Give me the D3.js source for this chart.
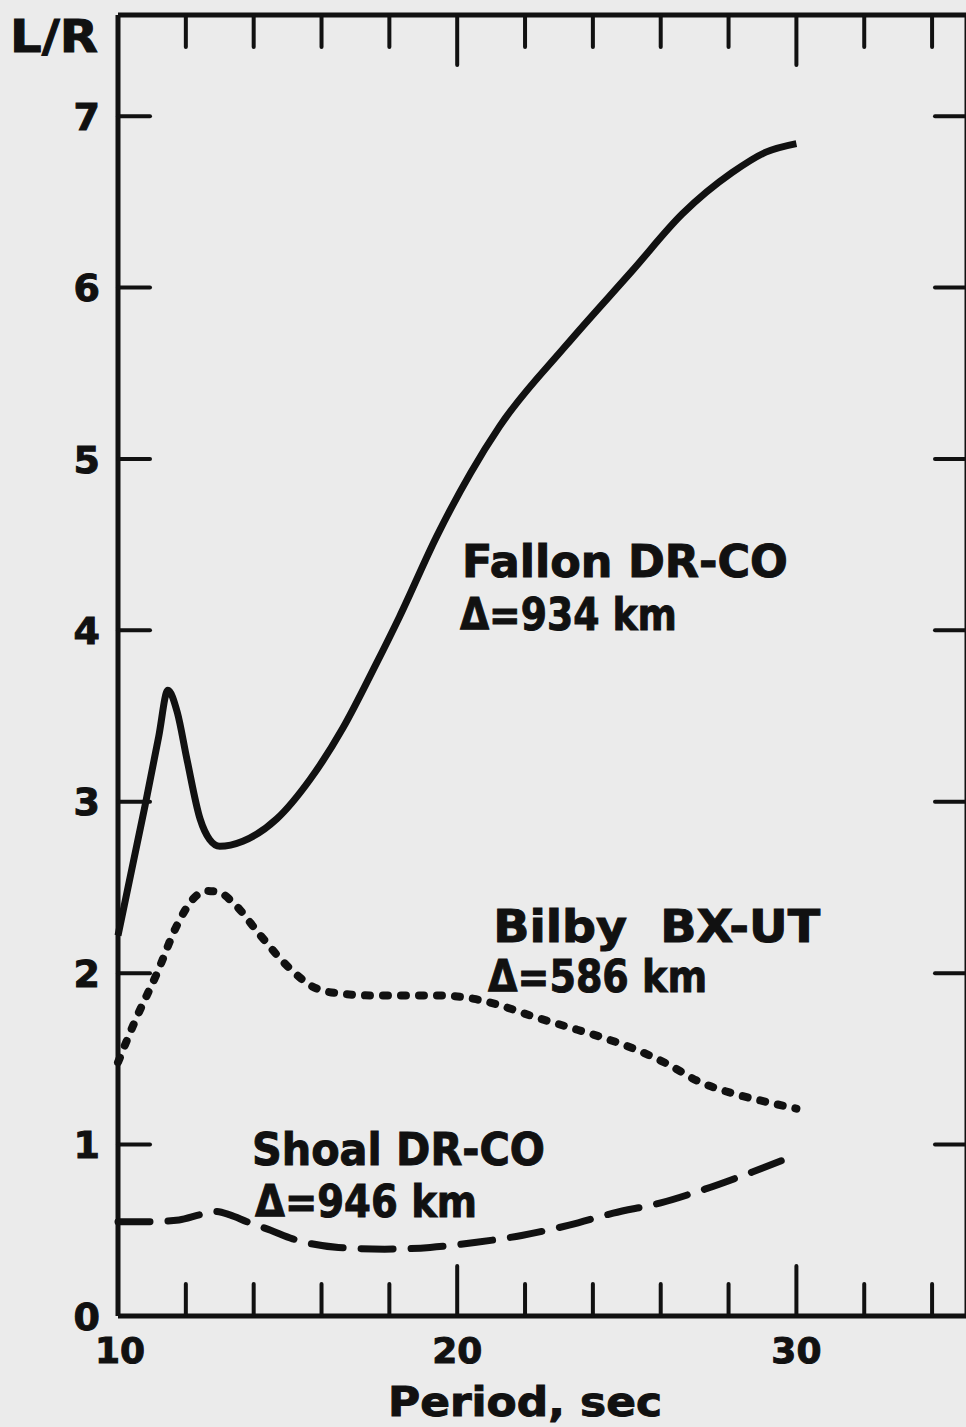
<!DOCTYPE html>
<html>
<head>
<meta charset="utf-8">
<script src="https://cdn.jsdelivr.net/npm/d3@7"></script>
<style>
  html, body { margin: 0; padding: 0; background: #ebebeb; }
  svg { display: block; }
</style>
</head>
<body>
<script>
// ---- data ----
const fallonX = [10, 10.8, 11.2, 11.47, 11.75, 12.03, 12.42, 12.7, 13.0, 13.68, 14.68, 15.66, 16.63, 17.6, 18.3, 19.4, 20.4, 21.25, 23.2, 25.17, 26.64, 28.1, 29.1, 30];
const fallonY = [2.22, 2.98, 3.38, 3.65, 3.52, 3.25, 2.9, 2.78, 2.74, 2.77, 2.9, 3.13, 3.43, 3.8, 4.08, 4.55, 4.92, 5.19, 5.66, 6.1, 6.43, 6.67, 6.79, 6.84];

const bilbyX = [10, 10.5, 11.15, 11.74, 12.2, 12.62, 13.0, 13.4, 14.2, 15.0, 15.86, 16.6, 17.5, 18.5, 19.5, 20.5, 21.3, 22.2, 23.2, 24.2, 25.2, 26.2, 27.1, 28.1, 29.1, 30];
const bilbyY = [1.48, 1.72, 2.0, 2.28, 2.43, 2.48, 2.47, 2.41, 2.22, 2.04, 1.91, 1.88, 1.87, 1.87, 1.87, 1.85, 1.81, 1.75, 1.69, 1.63, 1.56, 1.47, 1.37, 1.3, 1.25, 1.21];

const shoalX = [10, 10.9, 11.8, 12.4, 12.86, 13.3, 13.8, 14.5, 15.15, 16.5, 17.86, 19.2, 20.57, 21.9, 23.3, 24.6, 26, 27.3, 28.7, 30];
const shoalY = [0.55, 0.55, 0.56, 0.59, 0.61, 0.59, 0.55, 0.5, 0.45, 0.4, 0.39, 0.4, 0.43, 0.47, 0.53, 0.6, 0.66, 0.74, 0.84, 0.94];

const xMinorTicks = [12, 14, 16, 18, 22, 24, 26, 28, 32, 34];
const xMajorTicks = [20, 30];
const xTickLabels = ["10", "20", "30"];
const yTicks = [1, 2, 3, 4, 5, 6, 7];
const yTickLabels = ["0", "1", "2", "3", "4", "5", "6", "7"];

const labels = [
  {text: "Fallon DR-CO", x: 20.14, y: 4.31, w: 326},
  {text: "\u0394=934 km", x: 20.08, y: 4.0, w: 217},
  {text: "Bilby  BX-UT", x: 21.06, y: 2.18, w: 327},
  {text: "\u0394=586 km", x: 20.91, y: 1.89, w: 219},
  {text: "Shoal DR-CO", x: 13.95, y: 0.88, w: 293},
  {text: "\u0394=946 km", x: 14.04, y: 0.578, w: 222}
];

// ---- layout ----
const W = 966, H = 1427;
const x = d3.scaleLinear().domain([10, 35]).range([118, 966]);
const y = d3.scaleLinear().domain([0, 7.59]).range([1316, 15]);
const ink = "#111";
const font = "'DejaVu Sans', 'Liberation Sans', sans-serif";

const svg = d3.select("body").append("svg").attr("width", W).attr("height", H);
svg.append("rect").attr("width", W).attr("height", H).attr("fill", "#ebebeb");

// frame
const frame = svg.append("g").attr("stroke", ink).attr("stroke-width", 5).attr("fill", "none");
frame.append("line").attr("x1", x(10)).attr("x2", x(10)).attr("y1", y(7.59)).attr("y2", y(0));
frame.append("line").attr("x1", x(10)).attr("x2", x(35)).attr("y1", y(0)).attr("y2", y(0));
frame.append("line").attr("x1", x(10)).attr("x2", x(35)).attr("y1", y(7.59)).attr("y2", y(7.59));
frame.append("line").attr("x1", x(35)).attr("x2", x(35)).attr("y1", y(7.59)).attr("y2", y(0)).attr("stroke-width", 3);

// ticks
const tk = svg.append("g").attr("stroke", ink).attr("stroke-width", 4).attr("stroke-linecap", "round");
xMinorTicks.forEach(v => {
  tk.append("line").attr("x1", x(v)).attr("x2", x(v)).attr("y1", y(0)).attr("y2", y(0) - 32);
  tk.append("line").attr("x1", x(v)).attr("x2", x(v)).attr("y1", y(7.59)).attr("y2", y(7.59) + 32);
});
xMajorTicks.forEach(v => {
  tk.append("line").attr("x1", x(v)).attr("x2", x(v)).attr("y1", y(0)).attr("y2", y(0) - 50);
  tk.append("line").attr("x1", x(v)).attr("x2", x(v)).attr("y1", y(7.59)).attr("y2", y(7.59) + 50);
});
yTicks.forEach(v => {
  tk.append("line").attr("x1", x(10)).attr("x2", x(10) + 32).attr("y1", y(v)).attr("y2", y(v));
  tk.append("line").attr("x1", x(35)).attr("x2", x(35) - 31).attr("y1", y(v)).attr("y2", y(v));
});

// tick labels
const tl = svg.append("g").attr("fill", ink).attr("stroke", ink).attr("stroke-width", 1)
  .attr("font-family", font).attr("font-weight", "bold");
yTickLabels.forEach(t => {
  tl.append("text").attr("x", 100).attr("y", y(+t)).attr("dy", "0.36em")
    .attr("text-anchor", "end").attr("font-size", 38).text(t);
});
xTickLabels.forEach(t => {
  const v = +t;
  tl.append("text").attr("x", v === 10 ? x(v) + 2 : x(v)).attr("y", 1363)
    .attr("text-anchor", "middle").attr("font-size", 36).text(t);
});
tl.append("text").attr("x", 10).attr("y", 52).attr("font-size", 44)
  .attr("textLength", 88).attr("lengthAdjust", "spacingAndGlyphs").text("L/R");
tl.append("text").attr("x", 388).attr("y", 1416).attr("font-size", 41)
  .attr("textLength", 274).attr("lengthAdjust", "spacingAndGlyphs").text("Period, sec");

// curves
const line = d3.line().x(d => x(d[0])).y(d => y(d[1])).curve(d3.curveMonotoneX);
const zip = (a, b) => a.map((v, i) => [v, b[i]]);

svg.append("path").datum(zip(fallonX, fallonY)).attr("d", line)
  .attr("fill", "none").attr("stroke", ink).attr("stroke-width", 7).attr("stroke-linejoin", "round");
svg.append("path").datum(zip(bilbyX, bilbyY)).attr("d", line)
  .attr("fill", "none").attr("stroke", ink).attr("stroke-width", 8)
  .attr("stroke-linecap", "round").attr("stroke-dasharray", "5 13");
svg.append("path").datum(zip(shoalX, shoalY)).attr("d", line)
  .attr("fill", "none").attr("stroke", ink).attr("stroke-width", 7)
  .attr("stroke-linecap", "round").attr("stroke-dasharray", "32 18");

// annotations
const an = svg.append("g").attr("fill", ink).attr("stroke", ink).attr("stroke-width", 1)
  .attr("font-family", font).attr("font-weight", "bold");
labels.forEach(l => {
  an.append("text").attr("x", x(l.x)).attr("y", y(l.y)).attr("font-size", 44)
    .attr("textLength", l.w).attr("lengthAdjust", "spacingAndGlyphs")
    .attr("xml:space", "preserve").style("white-space", "pre").text(l.text);
});
</script>
</body>
</html>
